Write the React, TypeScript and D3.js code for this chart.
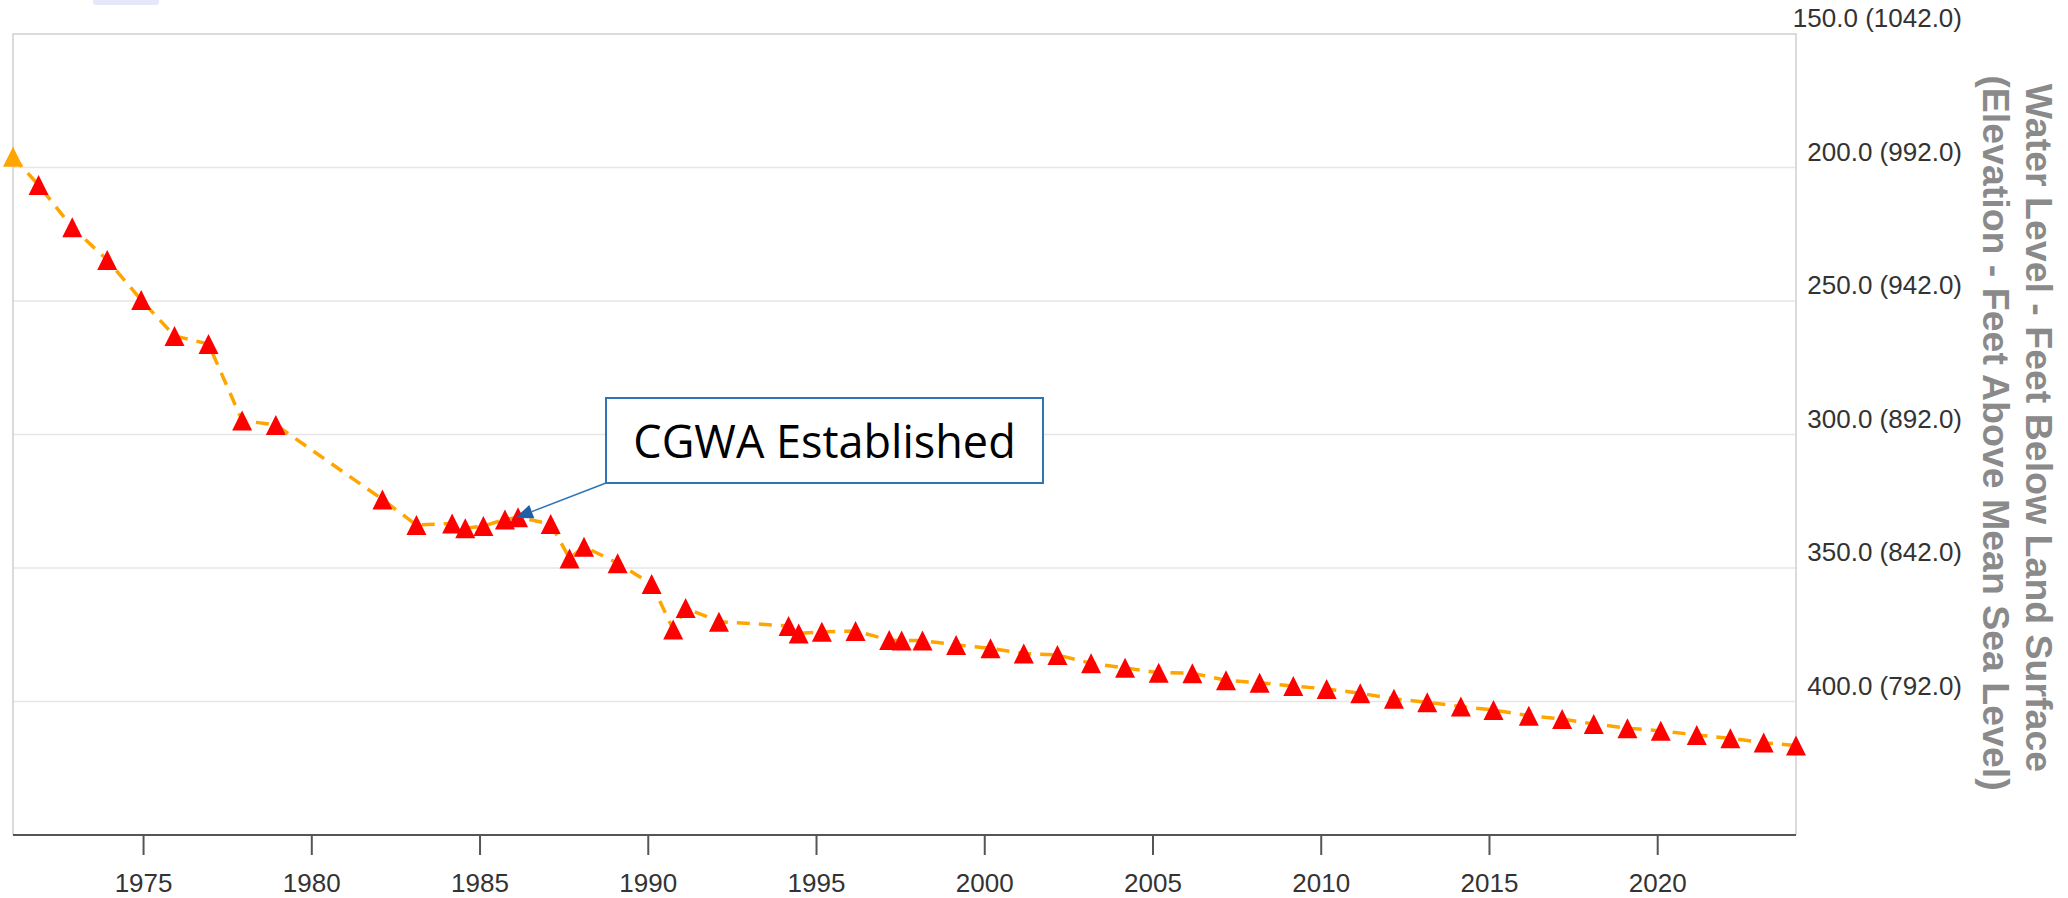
import React from "react";
import * as d3 from "d3";

const WIDTH = 2068;
const HEIGHT = 898;
const PLOT = { LEFT: 13, RIGHT: 1796, TOP: 34, BOTTOM: 835 };
const LAND_SURFACE = 1192;

// measurement dates (decimal years) and depth to water (ft below land surface)
const years = [
  1971.12, 1971.88, 1972.88, 1973.92, 1974.93, 1975.92, 1976.93, 1977.93, 1978.93,
  1982.1, 1983.11, 1984.17, 1984.56, 1985.1, 1985.74, 1986.13, 1987.1, 1987.66,
  1988.09, 1989.09, 1990.1, 1990.74, 1991.11, 1992.1, 1994.17, 1994.47, 1995.16,
  1996.16, 1997.16, 1997.53, 1998.15, 1999.15, 2000.17, 2001.16, 2002.16, 2003.16,
  2004.17, 2005.17, 2006.17, 2007.17, 2008.17, 2009.17, 2010.16, 2011.16, 2012.16,
  2013.15, 2014.15, 2015.12, 2016.17, 2017.16, 2018.1, 2019.1, 2020.09, 2021.16,
  2022.16, 2023.15, 2024.11,
];
const depths = [
  196, 206.6, 222.4, 234.6, 249.6, 263.1, 266.1, 294.8, 296.4,
  324.3, 333.9, 333.3, 335.1, 334.3, 331.8, 331.0, 333.5, 346.4,
  342.0, 348.2, 356.0, 373.0, 365.0, 370.1, 371.7, 374.5, 373.9,
  373.6, 377.0, 377.2, 377.2, 378.8, 380.1, 382.0, 382.6, 385.7,
  387.4, 389.2, 389.4, 392.0, 393.0, 394.2, 395.3, 396.9, 399.0,
  400.3, 401.9, 403.2, 405.3, 406.6, 408.4, 410.0, 411.0, 412.5,
  413.8, 415.4, 416.5,
];

const depthTicks = [150, 200, 250, 300, 350, 400];
const yearTicks = [1975, 1980, 1985, 1990, 1995, 2000, 2005, 2010, 2015, 2020];
const titleLines = [
  "Water Level - Feet Below Land Surface",
  "(Elevation - Feet Above Mean Sea Level)",
];
const note = { text: "CGWA Established", year: 1986.04, depth: 331.3 };

const FONT = "'Liberation Sans', Arial, Helvetica, sans-serif";

const App = () => {
  const x = d3
    .scaleLinear()
    .domain(d3.extent(years) as [number, number])
    .range([PLOT.LEFT, PLOT.RIGHT]);

  const y = d3.scaleLinear().domain([150, 450]).range([PLOT.TOP, PLOT.BOTTOM]);

  const points = years.map((yr, i) => ({ yr, d: depths[i], i }));

  const line = d3
    .line<{ yr: number; d: number }>()
    .x((p) => x(p.yr))
    .y((p) => y(p.d));

  const tri = (cx: number, cy: number, r: number) =>
    `M${cx},${cy - r}L${cx + r},${cy + r}L${cx - r},${cy + r}Z`;

  // annotation arrow
  const box = { x: 606, y: 398, w: 437, h: 85 };
  const sx = box.x;
  const sy = box.y + box.h;
  const tx = x(note.year);
  const ty = y(note.depth);
  const len = Math.hypot(tx - sx, ty - sy);
  const ux = (tx - sx) / len;
  const uy = (ty - sy) / len;
  const bx = tx - ux * 18;
  const by = ty - uy * 18;
  const head = `M${tx},${ty}L${bx - uy * 7},${by + ux * 7}L${bx + uy * 7},${by - ux * 7}Z`;

  return (
    <svg
      width={WIDTH}
      height={HEIGHT}
      style={{ position: "absolute", left: 0, top: 0, display: "block", background: "#fff" }}
    >
      <rect x={93} y={-6} width={66} height={11} rx={3} fill="#e7e7fa" />

      {/* grid */}
      {depthTicks.slice(1).map((t) => (
        <line key={t} x1={PLOT.LEFT} x2={PLOT.RIGHT} y1={y(t)} y2={y(t)} stroke="#e6e6e6" strokeWidth={1.5} />
      ))}

      {/* plot border */}
      <path
        d={`M${PLOT.LEFT},${PLOT.BOTTOM}V${PLOT.TOP}H${PLOT.RIGHT}V${PLOT.BOTTOM}`}
        fill="none"
        stroke="#cfcfcf"
        strokeWidth={1.5}
      />

      {/* x axis */}
      <line x1={PLOT.LEFT} x2={PLOT.RIGHT} y1={PLOT.BOTTOM} y2={PLOT.BOTTOM} stroke="#555" strokeWidth={2} />
      {yearTicks.map((t) => (
        <g key={t}>
          <line x1={x(t)} x2={x(t)} y1={PLOT.BOTTOM} y2={PLOT.BOTTOM + 20} stroke="#555" strokeWidth={2} />
          <text x={x(t)} y={892} textAnchor="middle" fontFamily={FONT} fontSize={26} fill="#333">
            {t}
          </text>
        </g>
      ))}

      {/* y labels (right side) */}
      {depthTicks.map((t) => (
        <text key={t} x={1962} y={y(t) - 7} textAnchor="end" fontFamily={FONT} fontSize={26} fill="#333">
          {`${t.toFixed(1)} (${(LAND_SURFACE - t).toFixed(1)})`}
        </text>
      ))}

      {/* axis title */}
      <text
        transform={`translate(2026, 428) rotate(90)`}
        textAnchor="middle"
        fontFamily={FONT}
        fontSize={37.5}
        fontWeight="bold"
        fill="#8a8a8a"
      >
        {titleLines[0]}
      </text>
      <text
        transform={`translate(1983, 433) rotate(90)`}
        textAnchor="middle"
        fontFamily={FONT}
        fontSize={37.5}
        fontWeight="bold"
        fill="#8a8a8a"
      >
        {titleLines[1]}
      </text>

      {/* series */}
      <path
        d={line(points) || ""}
        fill="none"
        stroke="#FFA500"
        strokeWidth={3.5}
        strokeDasharray="13,9"
      />
      {points.map((p) => (
        <path key={p.i} d={tri(x(p.yr), y(p.d), 10)} fill={p.i === 0 ? "#FFA500" : "#FF0000"} />
      ))}

      {/* annotation */}
      <line x1={sx} y1={sy} x2={bx} y2={by} stroke="#2e75b6" strokeWidth={1.5} />
      <path d={head} fill="#1f5fa8" />
      <rect x={box.x} y={box.y} width={box.w} height={box.h} fill="#fff" stroke="#2e75b6" strokeWidth={2} />
      <text
        x={box.x + box.w / 2}
        y={458}
        textAnchor="middle"
        fontFamily="'Open Sans', 'Noto Sans', sans-serif"
        fontSize={45}
        fill="#000"
      >
        {note.text}
      </text>
    </svg>
  );
};

export default App;
